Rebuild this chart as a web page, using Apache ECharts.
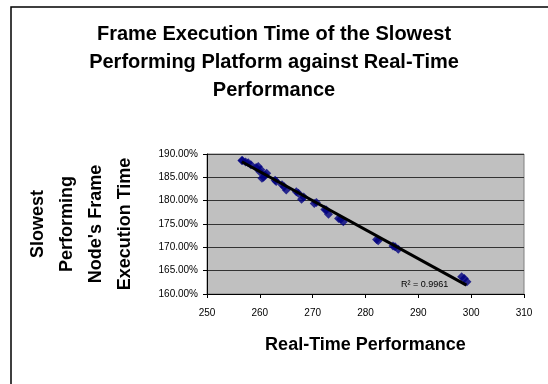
<!DOCTYPE html>
<html>
<head>
<meta charset="utf-8">
<script src="https://cdn.jsdelivr.net/npm/echarts@6/dist/echarts.min.js"></script>
<style>
html,body{margin:0;padding:0;background:#fff;}
#c{width:548px;height:384px;}
</style>
</head>
<body>
<div id="c"></div>
<script>
// Real-Time Performance (x) and Frame Execution Time % (y)
var realTime = [256.6, 256.7, 257.3, 257.8, 258.3, 259.3, 259.7, 260.2, 260.0, 260.4, 260.7, 261.0, 261.3,
  262.9, 263.1, 264.2, 264.6, 265.0, 266.9, 267.3, 267.9, 268.3, 270.3, 270.7, 272.3, 272.6, 273.0,
  274.9, 275.3, 275.8, 282.1, 282.4, 285.2, 285.6, 286.2, 298.2, 298.7, 299.2];
var execTime = [188.6, 188.6, 188.3, 188.1, 187.7, 187.1, 187.3, 186.6, 186.2, 184.8, 185.0, 185.5, 185.9,
  184.4, 184.1, 183.4, 183.0, 182.3, 181.9, 181.6, 180.3, 180.8, 179.4, 179.6, 178.1, 178.0, 177.1,
  176.2, 176.0, 175.5, 171.7, 171.4, 170.3, 170.1, 169.6, 163.7, 163.3, 162.6];
// Linear trend line end points
var trendX = [256.6, 299.1];
var trendY = [188.35, 161.9];
var r2Text = 'R\u00b2 = 0.9961';
var titleText = 'Frame Execution Time of the Slowest\nPerforming Platform against Real-Time\nPerformance';
var xName = 'Real-Time Performance';
var yName = 'Slowest\nPerforming\nNode\'s Frame\nExecution Time';

var pts = realTime.map(function (x, i) { return [x, execTime[i]]; });
var trend = trendX.map(function (x, i) { return [x, trendY[i]]; });
var FONT = 'Liberation Sans, Arial, sans-serif';

var chart = echarts.init(document.getElementById('c'), null, {renderer: 'canvas'});
chart.setOption({
  animation: false,
  backgroundColor: '#ffffff',
  title: {
    text: titleText,
    left: 'center',
    top: 15,
    textStyle: {fontFamily: FONT, fontSize: 20, fontWeight: 'bold', color: '#000', lineHeight: 28}
  },
  grid: {
    left: 207, top: 154, right: 24, bottom: 90,
    show: true, backgroundColor: '#C0C0C0', borderColor: '#808080', borderWidth: 1
  },
  xAxis: {
    type: 'value', min: 250, max: 310, interval: 10,
    name: xName, nameLocation: 'middle', nameGap: 42,
    nameTextStyle: {fontFamily: FONT, fontSize: 18, fontWeight: 'bold', color: '#000'},
    axisLine: {show: true, lineStyle: {color: '#000', width: 1}},
    axisTick: {show: true, inside: false, length: 4, lineStyle: {color: '#000'}},
    axisLabel: {fontFamily: FONT, fontSize: 10, color: '#000', margin: 14},
    splitLine: {show: false}
  },
  yAxis: {
    type: 'value', min: 160, max: 190, interval: 5,
    axisLine: {show: true, lineStyle: {color: '#000', width: 1}},
    axisTick: {show: true, inside: false, length: 4, lineStyle: {color: '#000'}},
    axisLabel: {fontFamily: FONT, fontSize: 10, color: '#000', margin: 9,
      formatter: function (v) { return v.toFixed(2) + '%'; }},
    splitLine: {show: true, lineStyle: {color: '#333', width: 1}}
  },
  series: [
    {
      type: 'scatter', data: pts, symbol: 'diamond', symbolSize: 9,
      itemStyle: {color: '#000080'}
    },
    {
      type: 'line', data: trend, showSymbol: false, symbol: 'none',
      lineStyle: {color: '#000', width: 3}
    }
  ],
  graphic: [
    {type: 'rect', shape: {x: 11, y: 7, width: 560, height: 400}, style: {fill: 'none', stroke: '#000', lineWidth: 1.5}, z: -1},
    {type: 'text', x: 401, y: 280, style: {text: r2Text, font: '9px ' + FONT, fill: '#000'}},
    {type: 'text', x: 82, y: 224, rotation: Math.PI / 2,
      style: {text: yName, font: 'bold 18px ' + FONT, fill: '#000', align: 'center', verticalAlign: 'middle', lineHeight: 29}}
  ]
});
</script>
</body>
</html>
